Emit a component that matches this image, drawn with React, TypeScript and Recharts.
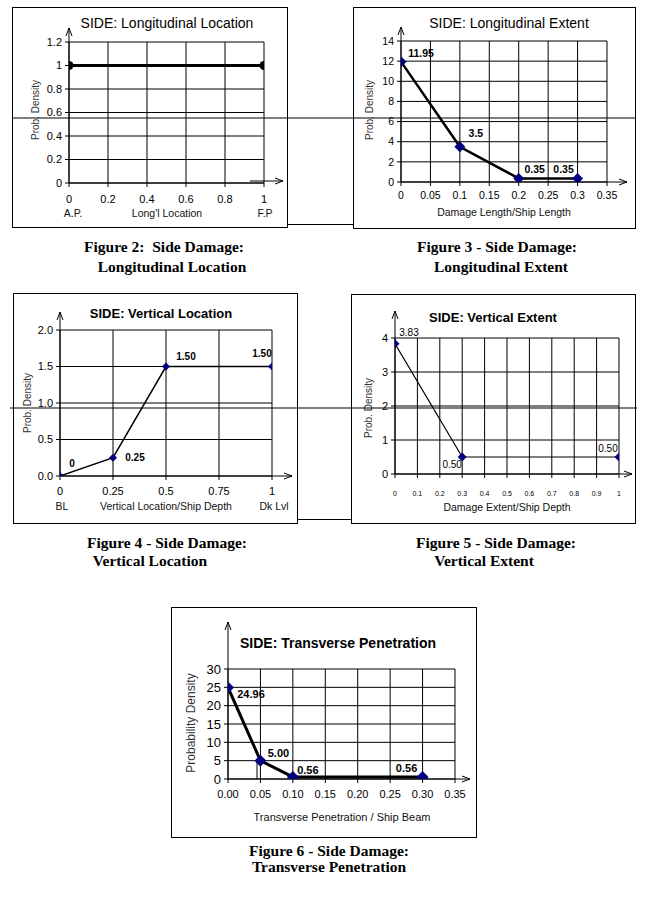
import React from "react";
import { LineChart, Line, XAxis, YAxis, CartesianGrid, LabelList } from "recharts";

const SANS = "'Liberation Sans', Arial, sans-serif";
const SERIF = "'Liberation Serif', 'Times New Roman', serif";
const NAVY = "#000080";

// Figure 2 - longitudinal location
const fig2X = [0, 1];
const fig2Y = [1, 1];
const fig2XTicks = [0, 0.2, 0.4, 0.6, 0.8, 1];
const fig2XTickText = ["0", "0.2", "0.4", "0.6", "0.8", "1"];
const fig2YTicks = [0, 0.2, 0.4, 0.6, 0.8, 1, 1.2];
const fig2YTickText = ["0", "0.2", "0.4", "0.6", "0.8", "1", "1.2"];

// Figure 3 - longitudinal extent
const fig3X = [0, 0.1, 0.2, 0.3];
const fig3Y = [11.95, 3.5, 0.35, 0.35];
const fig3Labels = ["11.95", "3.5", "0.35", "0.35"];
const fig3XTicks = [0, 0.05, 0.1, 0.15, 0.2, 0.25, 0.3, 0.35];
const fig3XTickText = ["0", "0.05", "0.1", "0.15", "0.2", "0.25", "0.3", "0.35"];
const fig3YTicks = [0, 2, 4, 6, 8, 10, 12, 14];
const fig3YTickText = ["0", "2", "4", "6", "8", "10", "12", "14"];

// Figure 4 - vertical location
const fig4X = [0, 0.25, 0.5, 1];
const fig4Y = [0, 0.25, 1.5, 1.5];
const fig4Labels = ["0", "0.25", "1.50", "1.50"];
const fig4XTicks = [0, 0.25, 0.5, 0.75, 1];
const fig4XTickText = ["0", "0.25", "0.5", "0.75", "1"];
const fig4YTicks = [0, 0.5, 1, 1.5, 2];
const fig4YTickText = ["0.0", "0.5", "1.0", "1.5", "2.0"];

// Figure 5 - vertical extent
const fig5X = [0, 0.3, 1];
const fig5Y = [3.83, 0.5, 0.5];
const fig5Labels = ["3.83", "0.50", "0.50"];
const fig5XTicks = [0, 0.1, 0.2, 0.3, 0.4, 0.5, 0.6, 0.7, 0.8, 0.9, 1];
const fig5XTickText = ["0", "0.1", "0.2", "0.3", "0.4", "0.5", "0.6", "0.7", "0.8", "0.9", "1"];
const fig5YTicks = [0, 1, 2, 3, 4];
const fig5YTickText = ["0", "1", "2", "3", "4"];

// Figure 6 - transverse penetration
const fig6X = [0, 0.05, 0.1, 0.3];
const fig6Y = [24.96, 5.0, 0.56, 0.56];
const fig6Labels = ["24.96", "5.00", "0.56", "0.56"];
const fig6XTicks = [0, 0.05, 0.1, 0.15, 0.2, 0.25, 0.3, 0.35];
const fig6XTickText = ["0.00", "0.05", "0.10", "0.15", "0.20", "0.25", "0.30", "0.35"];
const fig6YTicks = [0, 5, 10, 15, 20, 25, 30];
const fig6YTickText = ["0", "5", "10", "15", "20", "25", "30"];

function Txt({ x, y, children, size = 11, bold = false, font = SANS, color = "#000", rotate = 0 }: any) {
  return (
    <div
      style={{
        position: "absolute",
        left: x,
        top: y,
        transform: `translate(-50%, -50%) rotate(${rotate}deg)`,
        fontFamily: font,
        fontSize: size,
        fontWeight: bold ? 700 : 400,
        color,
        whiteSpace: "pre",
        lineHeight: 1,
      }}
    >
      {children}
    </div>
  );
}

const YW = 36;
const XH = 20;

function Panel(p: any) {
  const [bl, bt, br, bb] = p.box;
  const [pl, pt, pr, pb] = p.plot;
  const data = p.xs.map((x: number, i: number) => ({ x, y: p.ys[i], label: p.labels ? p.labels[i] : "" }));
  const fmt = (ticks: number[], text: string[]) => (v: number) => {
    const i = ticks.indexOf(v);
    return i >= 0 ? text[i] : String(v);
  };

  const dot = (d: any) => {
    const { cx, cy, index } = d;
    if (p.dot === "circle") {
      return <circle key={`dot-${index}`} cx={cx} cy={cy} r={p.dotSize} fill="#000" />;
    }
    const s = p.dotSize;
    return (
      <polygon
        key={`dot-${index}`}
        points={`${cx},${cy - s} ${cx + s},${cy} ${cx},${cy + s} ${cx - s},${cy}`}
        fill={NAVY}
      />
    );
  };

  const label = (l: any) => {
    const x = l.x ?? l.viewBox?.x;
    const y = l.y ?? l.viewBox?.y;
    const off = p.labelOffsets[l.index] || [0, 0];
    return (
      <text
        key={`lab-${l.index}`}
        x={x + off[0]}
        y={y + off[1]}
        textAnchor="middle"
        dominantBaseline="central"
        fontFamily={SANS}
        fontSize={p.labelSize}
        fontWeight={p.labelBold ? 700 : 400}
        fill="#000"
      >
        {l.value}
      </text>
    );
  };

  const [xa0, xa1] = p.xArrow;
  const ay = p.arrowTop;
  const xay = p.xArrowY ?? pb;

  return (
    <>
      <div
        style={{
          position: "absolute",
          left: bl,
          top: bt,
          width: br - bl,
          height: bb - bt,
          border: "1px solid #000",
          boxSizing: "border-box",
        }}
      />
      <div style={{ position: "absolute", left: bl, top: bt }}>
        <LineChart
          width={br - bl}
          height={bb - bt}
          data={data}
          margin={{ left: pl - bl - YW, top: pt - bt, right: br - pr, bottom: bb - pb - XH }}
        >
          <CartesianGrid stroke="#000" strokeWidth={1} />
          <XAxis
            dataKey="x"
            type="number"
            domain={p.xDomain}
            ticks={p.xTicks}
            interval={0}
            height={XH}
            allowDataOverflow
            tickFormatter={fmt(p.xTicks, p.xTickText)}
            tick={{ fontSize: p.xTickSize, fill: "#000", fontFamily: SANS }}
            tickSize={4}
            tickMargin={p.xTickMargin ?? 3}
            axisLine={{ stroke: "#000" }}
            tickLine={{ stroke: "#000" }}
          />
          <YAxis
            type="number"
            domain={p.yDomain}
            ticks={p.yTicks}
            interval={0}
            width={YW}
            allowDataOverflow
            tickFormatter={fmt(p.yTicks, p.yTickText)}
            tick={{ fontSize: p.yTickSize, fill: "#000", fontFamily: SANS }}
            tickSize={4}
            tickMargin={3}
            axisLine={{ stroke: "#000" }}
            tickLine={{ stroke: "#000" }}
          />
          <Line
            type="linear"
            dataKey="y"
            stroke="#000"
            strokeWidth={p.lineWidth}
            dot={dot}
            activeDot={false}
            isAnimationActive={false}
          >
            {p.labels && <LabelList dataKey="label" content={label} />}
          </Line>
        </LineChart>
      </div>
      <svg
        width={664}
        height={900}
        style={{ position: "absolute", left: 0, top: 0, pointerEvents: "none", overflow: "visible" }}
      >
        <g stroke="#000" strokeWidth={1} fill="none">
          <line x1={pl} y1={pt} x2={pl} y2={ay} />
          <polyline points={`${pl - 3},${ay + 8} ${pl},${ay} ${pl + 3},${ay + 8}`} />
          <line x1={xa0} y1={xay} x2={xa1} y2={xay} />
          <polyline points={`${xa1 - 8},${xay - 3} ${xa1},${xay} ${xa1 - 8},${xay + 3}`} />
        </g>
      </svg>
      <Txt x={p.title[1]} y={p.title[2]} size={p.titleSize} bold={p.titleBold}>
        {p.title[0]}
      </Txt>
      <Txt x={p.yLabel[1]} y={p.yLabel[2]} size={p.yLabelSize} color="#333" rotate={-90}>
        {p.yLabel[0]}
      </Txt>
      {p.xLabels.map((t: any, i: number) => (
        <Txt key={i} x={t[1]} y={t[2]} size={p.xLabelSize} color="#111">
          {t[0]}
        </Txt>
      ))}
      {p.caption.map((t: any, i: number) => (
        <Txt key={`c${i}`} x={t[1]} y={t[2]} size={15.5} bold font={SERIF}>
          {t[0]}
        </Txt>
      ))}
    </>
  );
}

export default function App() {
  return (
    <div style={{ position: "absolute", left: 0, top: 0, width: 664, height: 900, background: "#fff" }}>
      <Panel
        box={[12, 7, 288, 228]}
        plot={[69, 42, 264, 183]}
        xs={fig2X}
        ys={fig2Y}
        xDomain={[0, 1]}
        xTicks={fig2XTicks}
        xTickText={fig2XTickText}
        yDomain={[0, 1.2]}
        yTicks={fig2YTicks}
        yTickText={fig2YTickText}
        xTickSize={11}
        xTickMargin={8}
        yTickSize={11}
        lineWidth={3}
        dot="circle"
        dotSize={4.5}
        xArrow={[250, 283]}
        xArrowY={181}
        arrowTop={28}
        title={["SIDE: Longitudinal Location", 167, 23]}
        titleSize={14}
        titleBold={false}
        yLabel={["Prob. Density", 36, 110]}
        yLabelSize={10}
        xLabels={[["A.P.", 73, 213], ["Long'l Location", 167, 213], ["F.P", 265, 213]]}
        xLabelSize={10.5}
        caption={[["Figure 2:  Side Damage:", 164, 247], ["Longitudinal Location", 172, 267]]}
      />
      <Panel
        box={[353, 7, 636, 229]}
        plot={[401, 41, 607, 182]}
        xs={fig3X}
        ys={fig3Y}
        labels={fig3Labels}
        labelOffsets={[[20, -9], [16, -14], [16, -9], [-14, -9]]}
        labelSize={10.5}
        labelBold
        xDomain={[0, 0.35]}
        xTicks={fig3XTicks}
        xTickText={fig3XTickText}
        yDomain={[0, 14]}
        yTicks={fig3YTicks}
        yTickText={fig3YTickText}
        xTickSize={10.5}
        xTickMargin={6}
        yTickSize={10.5}
        lineWidth={2.5}
        dot="diamond"
        dotSize={5.5}
        xArrow={[607, 627]}
        arrowTop={27}
        title={["SIDE: Longitudinal Extent", 509, 23]}
        titleSize={14}
        titleBold={false}
        yLabel={["Prob. Density", 370, 110]}
        yLabelSize={10}
        xLabels={[["Damage Length/Ship Length", 504, 212]]}
        xLabelSize={10.5}
        caption={[["Figure 3 - Side Damage:", 497, 247], ["Longitudinal Extent", 501, 267]]}
      />
      <Panel
        box={[13, 293, 298, 524]}
        plot={[60, 330, 272, 476]}
        xs={fig4X}
        ys={fig4Y}
        labels={fig4Labels}
        labelOffsets={[[12, -13], [22, 0], [20, -10], [-10, -13]]}
        labelSize={10}
        labelBold
        xDomain={[0, 1]}
        xTicks={fig4XTicks}
        xTickText={fig4XTickText}
        yDomain={[0, 2]}
        yTicks={fig4YTicks}
        yTickText={fig4YTickText}
        xTickSize={11}
        xTickMargin={7}
        yTickSize={11}
        lineWidth={1.5}
        dot="diamond"
        dotSize={4}
        xArrow={[272, 292]}
        arrowTop={312}
        title={["SIDE: Vertical Location", 161, 313]}
        titleSize={13}
        titleBold
        yLabel={["Prob. Density", 28, 403]}
        yLabelSize={10}
        xLabels={[["BL", 62, 506], ["Vertical Location/Ship Depth", 166, 506], ["Dk Lvl", 274, 506]]}
        xLabelSize={10.5}
        caption={[["Figure 4 - Side Damage:", 167, 543], ["Vertical Location", 150, 561]]}
      />
      <Panel
        box={[351, 294, 636, 524]}
        plot={[395, 338, 619, 474]}
        xs={fig5X}
        ys={fig5Y}
        labels={fig5Labels}
        labelOffsets={[[14, -11], [-10, 7], [-11, -9]]}
        labelSize={10}
        labelBold={false}
        xDomain={[0, 1]}
        xTicks={fig5XTicks}
        xTickText={fig5XTickText}
        yDomain={[0, 4]}
        yTicks={fig5YTicks}
        yTickText={fig5YTickText}
        xTickSize={7}
        xTickMargin={13}
        yTickSize={11}
        lineWidth={1.2}
        dot="diamond"
        dotSize={4.5}
        xArrow={[619, 632]}
        arrowTop={311}
        title={["SIDE: Vertical Extent", 493, 317]}
        titleSize={13}
        titleBold
        yLabel={["Prob. Density", 369, 408]}
        yLabelSize={10}
        xLabels={[["Damage Extent/Ship Depth", 507, 507]]}
        xLabelSize={10.5}
        caption={[["Figure 5 - Side Damage:", 496, 543], ["Vertical Extent", 484, 561]]}
      />
      <Panel
        box={[171, 607, 477, 838]}
        plot={[228, 669, 455, 779]}
        xs={fig6X}
        ys={fig6Y}
        labels={fig6Labels}
        labelOffsets={[[23, 7], [18, -8], [15, -7], [-16, -9]]}
        labelSize={11}
        labelBold
        xDomain={[0, 0.35]}
        xTicks={fig6XTicks}
        xTickText={fig6XTickText}
        yDomain={[0, 30]}
        yTicks={fig6YTicks}
        yTickText={fig6YTickText}
        xTickSize={11}
        xTickMargin={7}
        yTickSize={13}
        lineWidth={3}
        dot="diamond"
        dotSize={6}
        xArrow={[455, 470]}
        arrowTop={622}
        title={["SIDE: Transverse Penetration", 338, 643]}
        titleSize={14}
        titleBold
        yLabel={["Probability Density", 191, 723]}
        yLabelSize={12}
        xLabels={[["Transverse Penetration / Ship Beam", 342, 817]]}
        xLabelSize={11}
        caption={[["Figure 6 - Side Damage:", 329, 851], ["Transverse Penetration", 329, 867]]}
      />
      {/* scan lines crossing the page */}
      <svg
        width={664}
        height={900}
        style={{ position: "absolute", left: 0, top: 0, pointerEvents: "none" }}
      >
        <g stroke="#000" strokeWidth={1}>
          <line x1={12} y1={118} x2={636} y2={118} />
          <line x1={10} y1={408} x2={637} y2={408} />
          <line x1={288} y1={224.5} x2={353} y2={224.5} />
          <line x1={298} y1={519.5} x2={351} y2={519.5} />
          <line x1={257} y1={762} x2={257} y2={779} />
        </g>
      </svg>
    </div>
  );
}
